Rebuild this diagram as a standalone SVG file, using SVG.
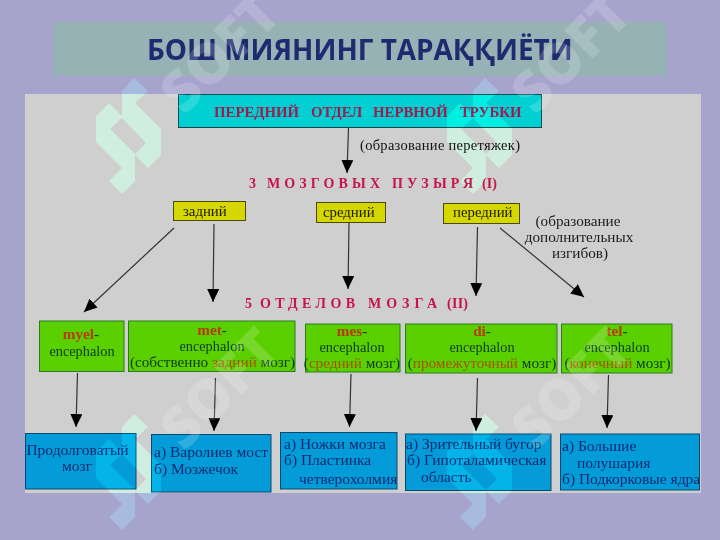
<svg xmlns="http://www.w3.org/2000/svg" xmlns:xlink="http://www.w3.org/1999/xlink" width="720" height="540" viewBox="0 0 720 540">
<style>
text{font-family:"Liberation Serif","Times New Roman",serif;font-size:14.5px;fill:#111}
.title{font-family:"Open Sans","Liberation Sans",sans-serif;font-size:27.9px;font-weight:700;fill:#1f2a70}
.cy{fill:#00d0d2;stroke:#0b4a52;stroke-width:1}
.ye{fill:#d6d600;stroke:#4a4a10;stroke-width:1}
.gr{fill:#5bd000;stroke:#2c7a20;stroke-width:1}
.bl{fill:#049cd8;stroke:#0a4a70;stroke-width:1}
.hd{font-weight:700;font-size:14.8px;fill:#a01a50}
.sec{font-weight:700;font-size:14px;fill:#c8144a}
.n{font-size:15.2px;fill:#1a1a1a}
.y{font-size:14.8px;fill:#1a1a00}
.g{font-size:15.2px;fill:#0b3a1a;text-anchor:middle}
.e{font-size:14.3px}
.r{fill:#b83a00;font-weight:700}
.o{fill:#a85000}
.b{font-size:15.5px;fill:#0a2a70}
.c{text-anchor:middle}
#connectors line{stroke:#333;stroke-width:1.2;marker-end:url(#arr)}
.wm{fill:#002112;mix-blend-mode:color-dodge;fill-rule:evenodd}
.wt{font-family:"Open Sans","Liberation Sans",sans-serif;font-weight:800;font-size:56px;fill:#fff;opacity:.17}
</style>
<defs>
<marker id="arr" markerUnits="userSpaceOnUse" markerWidth="13" markerHeight="12" refX="13" refY="6" orient="auto" viewBox="0 0 13 12"><path d="M0 0L13 6L0 12z" fill="#000"/></marker>
<g id="logo">
<path class="wm" d="M134 78L148 91L135 103L161 129V155L148 168L135 155V181L122 194L109 181L122 168L96 142V116L109 103L122 116V91ZM122 118L110 129L135 154L146 143Z"/>
<text class="wt" transform="translate(184 116) rotate(-45)">SOFT</text>
</g>
</defs>
<rect width="720" height="540" fill="#a6a3cd"/>
<g id="title"><rect x="53" y="22" width="614" height="54" fill="#97b2b5"/><text class="title" x="147" y="60">БОШ МИЯНИНГ ТАРАҚҚИЁТИ</text></g>
<rect x="25" y="94" width="676" height="399" fill="#cfcfcf"/>
<g id="top"><rect class="cy" x="178.500" y="94.500" width="363" height="33"/>
<text class="hd" x="214" y="117">ПЕРЕДНИЙ</text><text class="hd" x="311" y="117">ОТДЕЛ</text><text class="hd" x="373" y="117">НЕРВНОЙ</text><text class="hd" x="460" y="117">ТРУБКИ</text></g>
<text x="360" y="150" textLength="160">(образование перетяжек)</text>
<g id="sec3"><text class="sec" x="249" y="188">3</text><text class="sec" x="267" y="188" textLength="113" lengthAdjust="spacing">МОЗГОВЫХ</text><text class="sec" x="392" y="188" textLength="81" lengthAdjust="spacing">ПУЗЫРЯ</text><text class="sec" x="482" y="188" textLength="15" lengthAdjust="spacing">(I)</text></g>
<g id="y1"><rect class="ye" x="173.500" y="201.500" width="72" height="19"/><text class="y" x="183" y="216">задний</text></g>
<g id="y2"><rect class="ye" x="316.500" y="202.500" width="69" height="20"/><text class="y" x="323" y="217">средний</text></g>
<g id="y3"><rect class="ye" x="443.500" y="203.500" width="76" height="20"/><text class="y" x="453" y="217">передний</text></g>
<text class="n c" x="578" y="226">(образование</text><text class="n c" x="579" y="242">дополнительных</text><text class="n c" x="580" y="258">изгибов)</text>
<g id="sec5"><text class="sec" x="245" y="308">5</text><text class="sec" x="260" y="308" textLength="95" lengthAdjust="spacing">ОТДЕЛОВ</text><text class="sec" x="368" y="308" textLength="69" lengthAdjust="spacing">МОЗГА</text><text class="sec" x="447" y="308" textLength="21" lengthAdjust="spacing">(II)</text></g>
<g id="connectors">
<line x1="348.500" y1="128" x2="347" y2="173"/>
<line x1="174" y1="228" x2="84" y2="312"/>
<line x1="214" y1="224" x2="213" y2="302"/>
<line x1="349" y1="223" x2="348" y2="289"/>
<line x1="477.500" y1="227" x2="476" y2="296"/>
<line x1="500" y1="228" x2="584" y2="297"/>
<line x1="77.500" y1="373" x2="76" y2="427"/>
<line x1="215.500" y1="378" x2="214" y2="431"/>
<line x1="351" y1="374" x2="349.500" y2="427"/>
<line x1="477.500" y1="378" x2="476" y2="431"/>
<line x1="608.500" y1="375" x2="607" y2="428"/>
</g>
<g id="g1"><rect class="gr" x="39.500" y="321" width="84.500" height="50.500"/><text class="g" x="81" y="339"><tspan class="r">myel</tspan>-</text><text class="g e" x="82" y="356">encephalon</text></g>
<g id="g2"><rect class="gr" x="128.500" y="321" width="166.500" height="50.500"/><text class="g" x="212" y="335"><tspan class="r">met</tspan>-</text><text class="g e" x="212" y="351">encephalon</text><text class="g" x="212.500" y="367">(собственно <tspan class="o">задний</tspan> мозг)</text></g>
<g id="g3"><rect class="gr" x="305.500" y="324" width="94.500" height="48"/><text class="g" x="352" y="336"><tspan class="r">mes</tspan>-</text><text class="g e" x="352" y="352">encephalon</text><text class="g" x="352" y="368">(<tspan class="o">средний</tspan> мозг)</text></g>
<g id="g4"><rect class="gr" x="405.500" y="324" width="151.500" height="49"/><text class="g" x="482" y="336"><tspan class="r">di</tspan>-</text><text class="g e" x="482" y="352">encephalon</text><text class="g" x="482" y="368">(<tspan class="o">промежуточный</tspan> мозг)</text></g>
<g id="g5"><rect class="gr" x="561.500" y="324" width="110.500" height="49"/><text class="g" x="617" y="336"><tspan class="r">tel</tspan>-</text><text class="g e" x="617" y="352">encephalon</text><text class="g" x="617.500" y="368">(<tspan class="o">конечный</tspan> мозг)</text></g>
<g id="b1"><rect class="bl" x="25.500" y="433.500" width="110.500" height="55.500"/><text class="b c" x="77.500" y="455">Продолговатый</text><text class="b c" x="77" y="471">мозг</text></g>
<g id="b2"><rect class="bl" x="151.500" y="434.500" width="119.500" height="57.500"/><text class="b" x="154" y="457">а) Варолиев мост</text><text class="b" x="154" y="474">б) Мозжечок</text></g>
<g id="b3"><rect class="bl" x="280.500" y="432.500" width="116.500" height="56.500"/><text class="b" x="284" y="449">а) Ножки мозга</text><text class="b" x="284" y="465">б) Пластинка</text><text class="b" x="299" y="484">четверохолмия</text></g>
<g id="b4"><rect class="bl" x="405.500" y="434" width="145.500" height="56.500"/><text class="b" x="406" y="449">а) Зрительный бугор</text><text class="b" x="407" y="465">б) Гипоталамическая</text><text class="b" x="421" y="482">область</text></g>
<g id="b5"><rect class="bl" x="560.500" y="434" width="139" height="56"/><text class="b" x="562" y="451">а) Большие</text><text class="b" x="577" y="468">полушария</text><text class="b" x="562" y="484">б) Подкорковые ядра</text></g>
<use xlink:href="#logo"/>
<use xlink:href="#logo" x="351"/>
<use xlink:href="#logo" y="336"/>
<use xlink:href="#logo" x="351" y="336"/>
</svg>
